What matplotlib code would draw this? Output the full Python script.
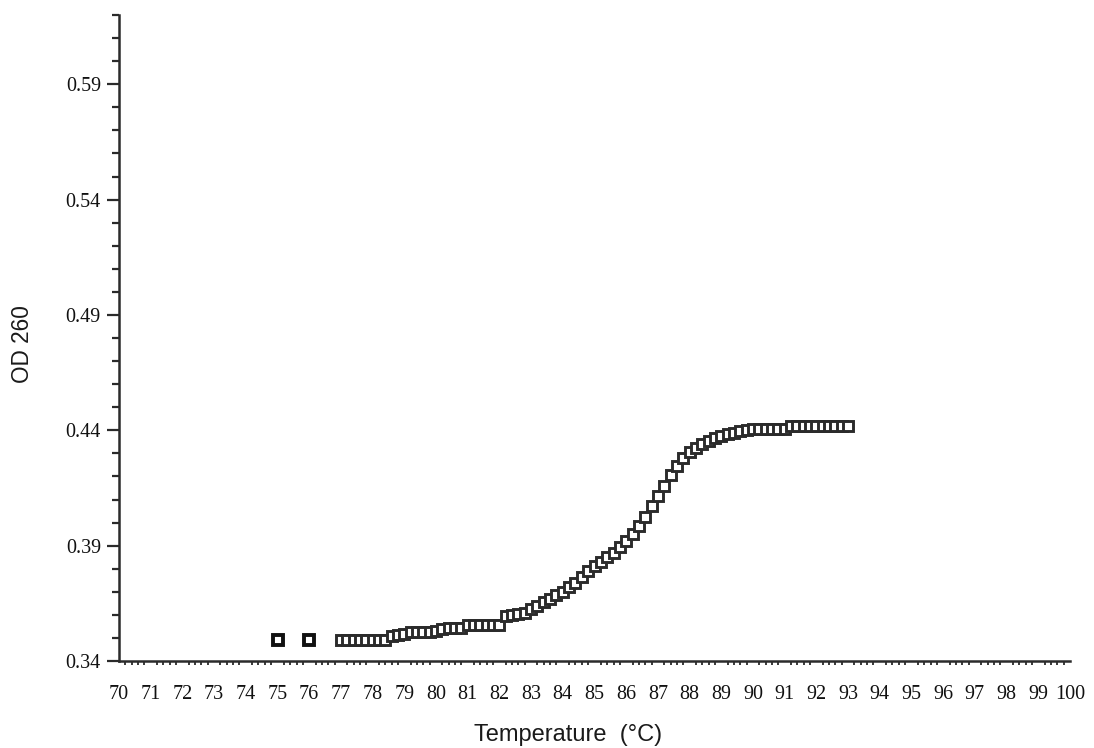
import numpy as np
import matplotlib
matplotlib.use('Agg')
from matplotlib import pyplot as plt
from matplotlib.ticker import MultipleLocator, FormatStrFormatter

# melting curve readings, one every 0.2 degC
temp = np.round(np.arange(77.0, 93.01, 0.2), 1)
od260 = [
	0.3490, 0.3490, 0.3490, 0.3490, 0.3490, 0.3490, 0.3490, 0.3490,
	0.3510, 0.3512, 0.3515,
	0.3525, 0.3525, 0.3527, 0.3527, 0.3528,
	0.3540, 0.3542, 0.3543, 0.3545,
	0.3555, 0.3555, 0.3556, 0.3556, 0.3557, 0.3558,
	0.3595, 0.3600, 0.3605, 0.3610,
	0.3625, 0.3640, 0.3655, 0.3670, 0.3685, 0.3700,
	0.3720, 0.3740, 0.3765, 0.3790, 0.3810, 0.3830, 0.3850, 0.3870,
	0.3895, 0.3920, 0.3950, 0.3985, 0.4025, 0.4070, 0.4115, 0.4160,
	0.4205, 0.4245, 0.4280, 0.4305, 0.4325, 0.4340, 0.4355, 0.4365,
	0.4375, 0.4385, 0.4390, 0.4395, 0.4402,
	0.4405, 0.4405, 0.4405, 0.4406, 0.4406, 0.4407,
	0.4420, 0.4420, 0.4420, 0.4420, 0.4420, 0.4420, 0.4420, 0.4420,
	0.4420, 0.4420,
]
# two early readings before the run settled
early_temp = [75.0, 76.0]
early_od = [0.3490, 0.3490]

xticks = list(range(70, 101))
yticks = [0.34, 0.39, 0.44, 0.49, 0.54, 0.59]

ink = '#2b2b2b'

fig = plt.figure(figsize=(10.94, 7.48), dpi=100)
ax = fig.add_axes([119/1094, 1 - 661/748, 951/1094, 646/748])

ax.plot(temp, od260, ls='none', marker='s', ms=7.6, mfc='white', mec=ink, mew=2.1)
ax.plot(early_temp, early_od, ls='none', marker='s', ms=7.4, mfc='white', mec='#111111', mew=2.8)

ax.set_xlim(70, 100)
ax.set_ylim(0.34, 0.62)

for s in ['top', 'right']:
	ax.spines[s].set_visible(False)
for s in ['left', 'bottom']:
	ax.spines[s].set_color(ink)
	ax.spines[s].set_linewidth(1.8)

ax.set_xticks(xticks)
ax.xaxis.set_minor_locator(MultipleLocator(0.2))
ax.tick_params(axis='x', which='major', length=0, pad=17)
ax.tick_params(axis='x', which='minor', length=3, width=1.3, color=ink, direction='out')

ax.set_yticks(yticks)
ax.yaxis.set_major_formatter(FormatStrFormatter('%.2f'))
ax.yaxis.set_minor_locator(MultipleLocator(0.01))
ax.tick_params(axis='y', which='major', length=9, width=1.6, color=ink, pad=4)
ax.tick_params(axis='y', which='minor', length=5, width=1.6, color=ink)

for lab in ax.get_xticklabels() + ax.get_yticklabels():
	lab.set_fontfamily('Liberation Serif')
	lab.set_fontsize(14.5)
	lab.set_color('#111111')

ax.set_xlabel('Temperature  (\u00b0C)', family='Liberation Sans', fontsize=17, color='#1a1a1a')
ax.xaxis.set_label_coords(0.472, -0.097)
ax.set_ylabel('OD 260', family='Liberation Sans', fontsize=16.3, color='#1a1a1a')
ax.yaxis.set_label_coords(-0.089, 0.49)

fig.savefig('out.png', dpi=100)
